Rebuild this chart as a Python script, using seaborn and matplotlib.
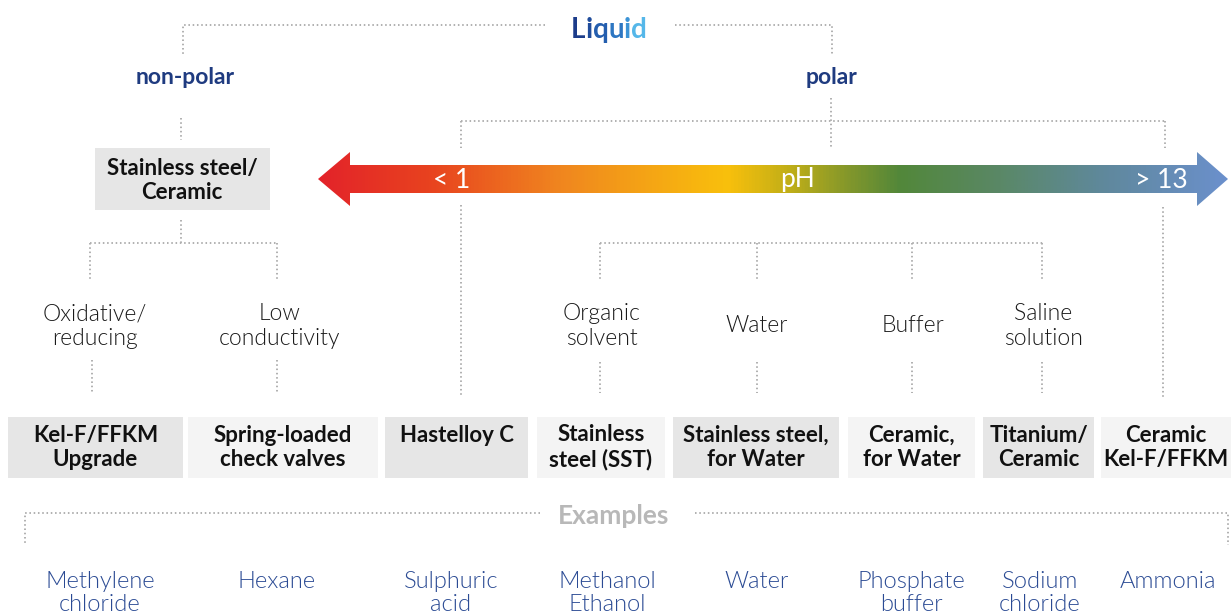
import numpy as np
import matplotlib.pyplot as plt
import seaborn as sns
from matplotlib.patches import Polygon, Rectangle
from matplotlib.colors import LinearSegmentedColormap

# DATA

liquid_word = 'Liquid'
liquid_colors = ['#1c3c8a', '#1f4c9b', '#245eae', '#2d76c2', '#3b93d6', '#55b7e9']
branch_labels = ['non-polar', 'polar']
ph_labels = ['< 1', 'pH', '> 13']
nonpolar_material = 'Stainless steel/\nCeramic'
conditions = ['Oxidative/\nreducing', 'Low\nconductivity',
              'Organic\nsolvent', 'Water', 'Buffer', 'Saline\nsolution']
materials = ['Kel-F/FFKM\nUpgrade', 'Spring-loaded\ncheck valves', 'Hastelloy C',
             'Stainless\nsteel (SST)', 'Stainless steel,\nfor Water', 'Ceramic,\nfor Water',
             'Titanium/\nCeramic', 'Ceramic\nKel-F/FFKM']
examples_title = 'Examples'
examples = ['Methylene\nchloride', 'Hexane', 'Sulphuric\nacid', 'Methanol\nEthanol',
            'Water', 'Phosphate\nbuffer', 'Sodium\nchloride', 'Ammonia']

# LAYOUT (pixel coordinates)

W, H = 1231, 612
cond_x = [95, 280, 602, 757, 913, 1043]
box_x = [(8, 183), (188, 378), (385, 528), (537, 665), (673, 839), (848, 975), (983, 1094), (1101, 1231)]
box_dark = [True, False, True, False, True, False, True, False]
example_x = [100, 277, 451, 607, 757, 911, 1040, 1168]

sns.set_theme(style='white')
plt.rcParams['font.family'] = ['Lato', 'DejaVu Sans']

fig = plt.figure(figsize=(12.31, 6.12), dpi=100)
ax = fig.add_axes([0, 0, 1, 1])

line_color = '#b0b0b0'
navy = '#1f3b80'
blue_text = '#2b4b94'


def dline(xs, ys):
    ax.plot(xs, ys, color=line_color, lw=1.4, ls=(0, (0.8, 1.4)), dash_capstyle='butt')


# Liquid header with per-letter gradient
prev = ax.text(571, 43, liquid_word[0], color=liquid_colors[0], fontsize=20,
               fontweight='bold', ha='left', va='bottom')
for ch, col in zip(liquid_word[1:], liquid_colors[1:]):
    prev = ax.annotate(ch, xy=(1, 0), xycoords=prev, xytext=(0, 0),
                       textcoords='offset points', color=col, fontsize=20,
                       fontweight='bold', ha='left', va='bottom')

dline([545, 183, 183], [25, 25, 55])
dline([675, 832, 832], [25, 25, 55])

ax.text(185, 78, branch_labels[0], color=navy, fontsize=16.5, fontweight='bold', ha='center', va='center')
ax.text(832, 78, branch_labels[1], color=navy, fontsize=16.5, fontweight='bold', ha='center', va='center')

# non-polar branch
dline([181, 181], [118, 140])
ax.add_patch(Rectangle((95, 148), 175, 62, color='#e6e6e6', lw=0))
ax.text(182, 180.5, nonpolar_material, fontsize=16, fontweight='bold', ha='center', va='center',
        color='#111111', linespacing=1.22)
dline([181, 181], [220, 243])
dline([90, 277], [243, 243])
dline([90, 90], [243, 280])
dline([277, 277], [243, 280])
dline([92, 92], [360, 393])
dline([277, 277], [360, 393])

# polar branch
dline([831, 831], [98, 148])
dline([461, 1165], [121, 121])
dline([461, 461], [121, 148])
dline([1165, 1165], [121, 148])
dline([461, 461], [205, 397])
dline([1163, 1163], [207, 397])
dline([600, 1043], [243, 243])
for x in [600, 757, 912, 1042]:
    dline([x, x], [243, 280])
    dline([x, x], [362, 393])

# pH arrow with gradient
arrow = Polygon([(318, 179), (350, 152), (350, 165), (1197, 165), (1197, 152), (1228, 179),
                 (1197, 206), (1197, 193), (350, 193), (350, 206)], closed=True,
                facecolor='none', edgecolor='none')
ax.add_patch(arrow)
stops = [(0.0, '#e3232a'), (0.12, '#e8421f'), (0.265, '#f0861f'), (0.45, '#f9c00c'),
         (0.52, '#bfae18'), (0.58, '#86982a'), (0.64, '#52873a'), (0.75, '#5a8866'),
         (0.86, '#5f889a'), (1.0, '#6b90cc')]
cmap = LinearSegmentedColormap.from_list('ph', stops)
grad = np.linspace(0, 1, 600).reshape(1, -1)
img = ax.imshow(grad, extent=(318, 1228, 206, 152), cmap=cmap, aspect='auto', zorder=1)
img.set_clip_path(arrow)

for lbl, x in zip(ph_labels, [452, 797, 1161]):
    ax.text(x, 180, lbl, color='white', fontsize=19, ha='center', va='center', zorder=3)

# conditions
for lbl, x in zip(conditions, cond_x):
    ax.text(x, 326, lbl, fontsize=16.5, fontweight=300, ha='center', va='center',
            color='#1a1a1a', linespacing=1.2)

# material boxes
for lbl, (x0, x1), dark in zip(materials, box_x, box_dark):
    ax.add_patch(Rectangle((x0, 417), x1 - x0, 61, color='#e6e6e6' if dark else '#f4f4f4', lw=0))
    y = 447.5 if '\n' in lbl else 435
    ax.text((x0 + x1) / 2, y, lbl, fontsize=16, fontweight='bold', ha='center', va='center',
            color='#111111', linespacing=1.22)

# examples
ax.text(614, 516, examples_title, fontsize=19, fontweight='bold', color='#b8b8b8',
        ha='center', va='center')
dline([540, 25, 25], [513, 513, 545])
dline([695, 1228, 1228], [513, 513, 545])
for lbl, x in zip(examples, example_x):
    y = 593 if '\n' in lbl else 582
    ax.text(x, y, lbl, fontsize=17, fontweight=300, color=blue_text,
            ha='center', va='center', linespacing=1.12)

ax.set_xlim(0, W)
ax.set_ylim(H, 0)
ax.axis('off')

fig.savefig('out.png', dpi=100, facecolor='white')
